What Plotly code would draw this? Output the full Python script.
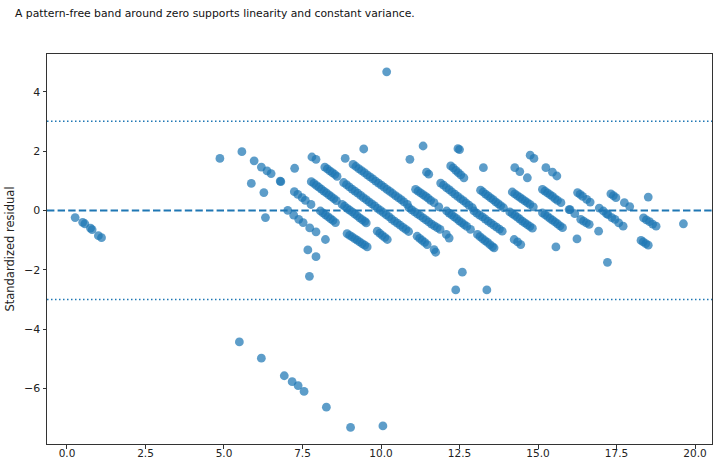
import plotly.graph_objects as go

# ---- data: fitted value (x) and standardized residual (y) ----
left_x = [0.26, 0.50, 0.57, 0.75, 0.80, 1.00, 1.10,
          4.87, 5.57, 5.96, 6.19, 6.37, 6.50, 6.79, 6.81, 5.87, 6.27, 6.32, 7.25, 7.80, 7.93,
          7.24, 7.35, 7.49, 7.59, 7.77,
          7.03, 7.22, 7.38, 7.52, 7.73, 7.93,
          7.67, 7.93, 7.72]
left_r = [-0.24, -0.40, -0.45, -0.60, -0.65, -0.85, -0.92,
          1.75, 1.98, 1.67, 1.46, 1.33, 1.24, 0.99, 0.97, 0.91, 0.60, -0.24, 1.42, 1.80, 1.72,
          0.63, 0.54, 0.43, 0.34, 0.20,
          0.00, -0.16, -0.30, -0.41, -0.59, -0.72,
          -1.33, -1.56, -2.22]

band8_x = [7.78, 7.86, 7.94, 8.02, 8.10, 8.18, 8.26, 8.34, 8.42, 8.50, 8.58,
           8.21, 8.29, 8.37, 8.45, 8.53, 8.60,
           8.07, 8.15, 8.23, 8.31, 8.39, 8.47, 8.55,
           8.76, 8.84, 8.92, 9.00, 9.08, 9.16, 9.24, 9.32, 9.40, 9.48, 9.53,
           8.92, 9.00, 9.08, 9.16, 9.24, 9.32, 9.40, 9.48, 9.56,
           8.23, 8.86, 9.45]
band8_r = [0.97, 0.91, 0.84, 0.78, 0.72, 0.65, 0.59, 0.52, 0.46, 0.40, 0.33,
           1.46, 1.40, 1.33, 1.27, 1.21, 1.15,
           -0.02, -0.08, -0.15, -0.21, -0.28, -0.34, -0.41,
           0.20, 0.14, 0.07, 0.01, -0.05, -0.12, -0.18, -0.25, -0.31, -0.37, -0.42,
           -0.78, -0.84, -0.89, -0.95, -1.00, -1.06, -1.12, -1.17, -1.23,
           -0.98, 1.75, 2.07]

band10_x = [9.11, 9.20, 9.29, 9.38, 9.47, 9.56, 9.65, 9.74, 9.83, 9.92, 10.01, 10.10,
            10.19, 10.28, 10.37, 10.46, 10.55, 10.64, 10.73, 10.84,
            8.81, 8.90, 8.99, 9.08, 9.17, 9.26, 9.35, 9.44, 9.53, 9.62, 9.71, 9.80,
            9.89, 9.98, 10.07, 10.16, 10.25, 10.34, 10.43, 10.52, 10.61, 10.70, 10.79, 10.88,
            9.88, 9.96, 10.04, 10.12, 10.20,
            10.92, 10.18]
band10_r = [1.55, 1.48, 1.41, 1.34, 1.27, 1.20, 1.13, 1.06, 0.99, 0.92, 0.85, 0.78,
            0.71, 0.64, 0.57, 0.50, 0.43, 0.36, 0.29, 0.20,
            0.94, 0.87, 0.79, 0.72, 0.65, 0.58, 0.51, 0.43, 0.36, 0.29, 0.22, 0.15,
            0.07, 0.00, -0.07, -0.14, -0.21, -0.29, -0.36, -0.43, -0.50, -0.57, -0.64, -0.71,
            -0.70, -0.77, -0.84, -0.91, -0.98,
            1.72, 4.67]

band12_x = [11.10, 11.18, 11.26, 11.34, 11.42, 11.50, 11.58, 11.69,
            10.89, 10.98, 11.07, 11.16, 11.25, 11.34, 11.43, 11.52, 11.61, 11.70, 11.79, 11.88,
            11.15, 11.23, 11.31, 11.39, 11.47, 11.69, 11.74,
            12.22, 12.30, 12.38, 12.46, 12.54, 12.64,
            11.90, 11.99, 12.08, 12.17, 12.26, 12.35, 12.44, 12.53, 12.62, 12.71, 12.80, 12.91,
            12.09, 12.17, 12.25, 12.33, 12.41, 12.49, 12.57, 12.65, 12.73, 12.85,
            12.08, 12.17, 11.34, 12.45, 12.50, 11.45, 11.52, 11.84,
            12.59, 12.38, 13.37]
band12_r = [0.71, 0.65, 0.59, 0.53, 0.47, 0.41, 0.34, 0.26,
            0.09, 0.02, -0.05, -0.12, -0.18, -0.25, -0.32, -0.39, -0.46, -0.52, -0.58, -0.64,
            -0.87, -0.94, -1.01, -1.08, -1.15, -1.32, -1.41,
            1.50, 1.43, 1.35, 1.27, 1.20, 1.10,
            0.92, 0.85, 0.77, 0.70, 0.62, 0.55, 0.47, 0.40, 0.33, 0.25, 0.18, 0.09,
            -0.02, -0.09, -0.15, -0.22, -0.28, -0.35, -0.41, -0.48, -0.54, -0.64,
            -0.81, -0.93, 2.17, 2.08, 2.05, 1.29, 1.22, 0.12,
            -2.08, -2.68, -2.68]

band14_x = [12.96, 13.05, 13.14, 13.23, 13.32, 13.41, 13.50, 13.59, 13.68, 13.77, 13.86,
            13.07, 13.15, 13.23, 13.31, 13.39, 13.47, 13.55, 13.60,
            13.17, 13.25, 13.33, 13.41, 13.49, 13.57, 13.65, 13.73, 13.81, 13.90,
            14.18, 14.26, 14.34, 14.42, 14.50, 14.58, 14.66, 14.74, 14.85,
            14.10, 14.18, 14.26, 14.34, 14.42, 14.50, 14.58, 14.66, 14.74, 14.82,
            14.24, 14.35, 14.45,
            13.26, 14.26, 14.42, 14.66, 14.75, 14.87]
band14_r = [-0.02, -0.09, -0.16, -0.22, -0.29, -0.36, -0.43, -0.50, -0.56, -0.63, -0.70,
            -0.81, -0.88, -0.95, -1.02, -1.08, -1.15, -1.22, -1.26,
            0.68, 0.62, 0.55, 0.49, 0.42, 0.36, 0.29, 0.23, 0.16, 0.09,
            0.62, 0.56, 0.50, 0.44, 0.38, 0.32, 0.26, 0.20, 0.12,
            -0.05, -0.11, -0.17, -0.23, -0.29, -0.36, -0.42, -0.48, -0.54, -0.60,
            -0.98, -1.06, -1.15,
            1.44, 1.44, 1.31, 1.10, 1.86, 1.75]

band16_x = [15.14, 15.22, 15.30, 15.38, 15.46, 15.54, 15.62, 15.73,
            15.14, 15.22, 15.30, 15.38, 15.46, 15.54, 15.62, 15.70, 15.78,
            15.25, 15.46, 15.60, 15.57, 15.99, 16.02, 16.17, 16.24,
            16.26, 16.34, 16.42, 16.55, 16.66,
            16.36, 16.45, 16.54, 16.63, 16.93]
band16_r = [0.71, 0.65, 0.59, 0.53, 0.47, 0.40, 0.34, 0.26,
            -0.08, -0.14, -0.20, -0.27, -0.33, -0.39, -0.45, -0.52, -0.58,
            1.44, 1.29, 1.16, -1.23, 0.03, 0.03, -0.11, -0.96,
            0.60, 0.54, 0.47, 0.37, 0.28,
            -0.30, -0.36, -0.42, -0.47, -0.70]

band18_x = [16.95, 17.08, 17.18, 17.23, 17.35, 17.45, 17.57, 17.71,
            17.32, 17.40, 17.48, 17.75, 17.92, 17.21,
            18.36, 18.45, 18.55, 18.65, 18.76,
            18.28, 18.35, 18.43, 18.51, 18.51, 19.63]
band18_r = [0.08, -0.02, -0.11, -0.14, -0.24, -0.30, -0.42, -0.53,
            0.56, 0.50, 0.43, 0.26, 0.13, -1.75,
            -0.25, -0.32, -0.38, -0.46, -0.53,
            -1.01, -1.06, -1.12, -1.17, 0.45, -0.45]

low_x = [5.49, 6.19, 6.92, 7.17, 7.36, 7.55, 8.26, 9.03, 10.06]
low_r = [-4.43, -4.98, -5.57, -5.77, -5.90, -6.10, -6.63, -7.31, -7.26]

ref_zero = 0
ref_band = [3, -3]
x_ticks = [0, 2.5, 5, 7.5, 10, 12.5, 15, 17.5, 20]
x_tick_text = ["0.0", "2.5", "5.0", "7.5", "10.0", "12.5", "15.0", "17.5", "20.0"]
y_ticks = [-6, -4, -2, 0, 2, 4]
y_tick_text = ["\u22126", "\u22124", "\u22122", "0", "2", "4"]

title = "A pattern-free band around zero supports linearity and constant variance."
y_title = "Standardized residual"

fitted = left_x + band8_x + band10_x + band12_x + band14_x + band16_x + band18_x + low_x
resid = left_r + band8_r + band10_r + band12_r + band14_r + band16_r + band18_r + low_r

BLUE = "#1f77b4"
fig = go.Figure()
fig.add_trace(go.Scatter(x=fitted, y=resid, mode="markers",
                         marker=dict(color=BLUE, size=8.8, opacity=0.72, line=dict(width=0)),
                         showlegend=False, hoverinfo="x+y"))

fig.add_hline(y=ref_zero, line=dict(color=BLUE, width=2, dash="7.4px,3.2px"))
for v in ref_band:
    fig.add_hline(y=v, line=dict(color=BLUE, width=1.5, dash="1.5px,2.5px"), opacity=1)

axis_common = dict(showline=True, linecolor="#333333", linewidth=1, mirror=True,
                   ticks="outside", ticklen=3.5, tickwidth=1, tickcolor="#333333",
                   showgrid=False, zeroline=False)

fig.update_xaxes(range=[-0.636, 20.54], tickmode="array", tickvals=x_ticks,
                 ticktext=x_tick_text, ticklabelstandoff=-4,
                 tickfont=dict(family="DejaVu Sans", size=10.5, color="#222222"),
                 **axis_common)
fig.update_yaxes(range=[-7.87, 5.27], tickmode="array", tickvals=y_ticks,
                 ticktext=y_tick_text,
                 tickfont=dict(family="DejaVu Sans", size=11, color="#222222"),
                 title=dict(text=y_title, font=dict(family="DejaVu Sans", size=11.5, color="#222222"),
                            standoff=7),
                 **axis_common)

fig.update_layout(
    width=720, height=460,
    margin=dict(l=47, r=8, t=54, b=16, autoexpand=False),
    plot_bgcolor="white", paper_bgcolor="white",
    title=dict(text=title, x=15/720, xanchor="left", y=1 - 13/460, yanchor="middle",
               font=dict(family="DejaVu Sans", size=10.8, color="#111111")),
)

fig.write_html("out.html")
